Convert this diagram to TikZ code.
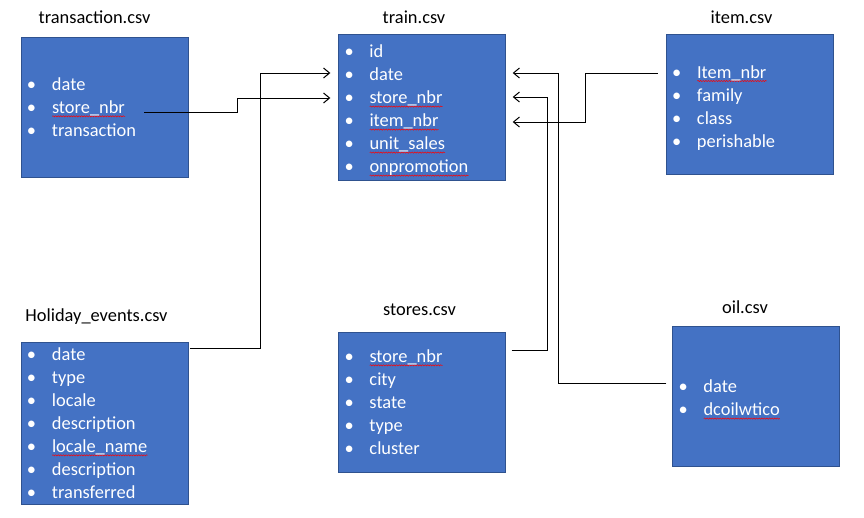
\documentclass[tikz,border=0pt]{standalone}
\usepackage{fontspec}
\setmainfont{Carlito}
\usetikzlibrary{arrows.meta,decorations.pathmorphing}
\definecolor{boxblue}{HTML}{4472C4}
\definecolor{boxline}{HTML}{2F528F}
\newsavebox{\SpellBox}
\newlength{\SpellLen}
\newcommand{\Spell}[1]{\sbox{\SpellBox}{#1}\setlength{\SpellLen}{\wd\SpellBox}%
  \rlap{\tikz[baseline=0pt]\draw[red, line width=.5pt, decorate, decoration={snake, amplitude=.6pt, segment length=2.6pt}] (0pt,-3pt) -- (\SpellLen,-3pt);}#1}
\newcommand{\Fld}[1]{\makebox[25pt][l]{\textbullet}#1}
\newcommand{\Up}{\rule{0pt}{20pt}}

\begin{document}
\begin{tikzpicture}[x=1pt,y=-1pt]
          \tikzstyle{boxs} = [draw=boxline, fill=boxblue, text=white, align=left,
            minimum width=167pt, minimum height=140pt, text width=155pt, inner xsep=6pt,
            font=\fontsize{18.4}{23}\selectfont]
          \tikzstyle{title} = [anchor=base, font=\fontsize{18.4}{23}\selectfont]
          \tikzstyle{line} = [draw, line width=1pt, -{Straight Barb[length=6pt,width=10pt]}]

          \useasboundingbox (0,0) rectangle (864,517);

          % tables
          \node(Transaction)[boxs] at (104.5,107) {\Fld{date}\\ \Fld{\Spell{store\_nbr}}\\ \Fld{transaction}};
          \node(Train)[boxs] at (422,107) {\Up\Fld{id}\\ \Fld{date}\\ \Fld{\Spell{store\_nbr}}\\ \Fld{\Spell{item\_nbr}}\\ \Fld{\Spell{unit\_sales}}\\ \Fld{\Spell{onpromotion}}};
          \node(Item)[boxs] at (749.5,104) {\Up\Fld{\Spell{Item\_nbr}}\\ \Fld{family}\\ \Fld{class}\\ \Fld{perishable}};
          \node(HolidayEvents)[boxs, minimum height=162pt] at (104.5,423) {\Fld{date}\\ \Fld{type}\\ \Fld{locale}\\ \Fld{description}\\ \Fld{\Spell{locale\_name}}\\ \Fld{description}\\ \Fld{transferred}};
          \node(Stores)[boxs] at (422,402) {\Fld{\Spell{store\_nbr}}\\ \Fld{city}\\ \Fld{state}\\ \Fld{type}\\ \Fld{cluster}};
          \node(Oil)[boxs] at (756,396) {\Up\Fld{date}\\ \Fld{\Spell{dcoilwtico}}};

          % titles
          \node(TransactionT)[title] at (94.5,23) {transaction.csv};
          \node(TrainT)[title] at (414,23) {train.csv};
          \node(ItemT)[title] at (741.5,23) {item.csv};
          \node(HolidayEventsT)[title] at (96.5,321) {Holiday\_events.csv};
          \node(StoresT)[title] at (419.5,315) {stores.csv};
          \node(OilT)[title] at (745,313) {oil.csv};

          % links
          \draw[line] ([xshift=-44pt,yshift=-5pt]Transaction.east) -- ++(93,0) |- ([xshift=-8pt,yshift=9pt]Train.west);
          \draw[line] ([xshift=2pt,yshift=-7pt]HolidayEvents.north east) -- ++(70,0) |- ([xshift=-8pt,yshift=34pt]Train.west);
          \draw[line] ([xshift=-8pt,yshift=31pt]Item.west) -- ++(-72,0) |- ([xshift=7pt,yshift=-15pt]Train.east);
          \draw[line] ([xshift=6pt,yshift=-19pt]Stores.north east) -- ++(36,0) |- ([xshift=7pt,yshift=10pt]Train.east);
          \draw[line] ([xshift=-6pt,yshift=13pt]Oil.west) -- ++(-108,0) |- ([xshift=7pt,yshift=34pt]Train.east);
\end{tikzpicture}
\end{document}
